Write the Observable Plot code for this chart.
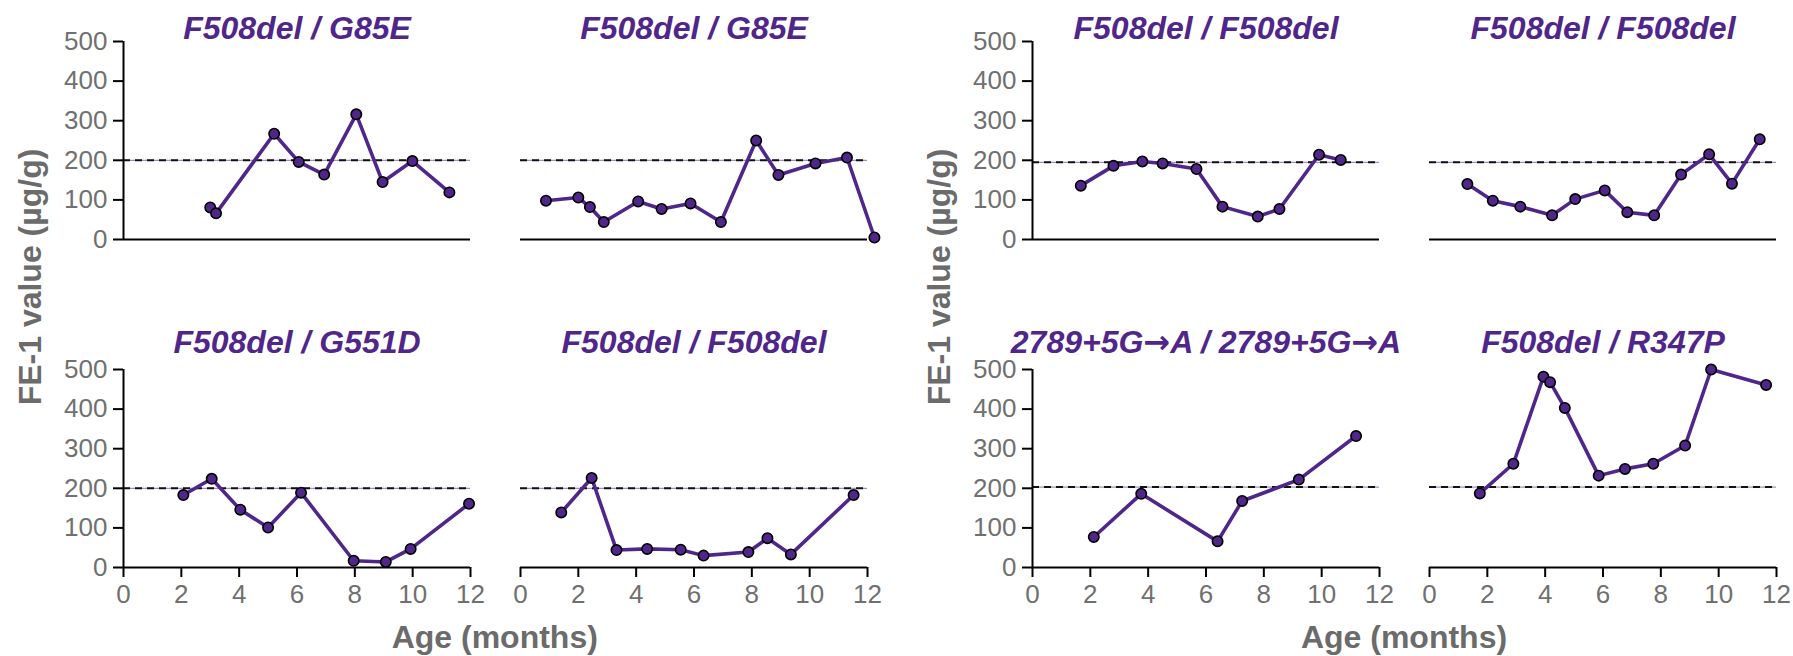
<!DOCTYPE html>
<html>
<head>
<meta charset="utf-8">
<script src="https://cdn.jsdelivr.net/npm/d3@7"></script>
<script src="https://cdn.jsdelivr.net/npm/@observablehq/plot@0.6"></script>
<style>
  html, body { margin: 0; padding: 0; background: #fff; }
  #chart { position: relative; width: 1793px; height: 656px; background: #fff; overflow: hidden;
           font-family: "Liberation Sans", Arial, sans-serif; }
</style>
</head>
<body>
<div id="chart"></div>
<script>
// ---- data ----
const titles = [
  "F508del / G85E", "F508del / G85E", "F508del / F508del", "F508del / F508del",
  "F508del / G551D", "F508del / F508del", "2789+5G\u2192A / 2789+5G\u2192A", "F508del / R347P"
];
const thresholds = [200, 200, 195, 195, 200, 200, 203, 203];

const p1Age = [3.0, 3.2, 5.21, 6.06, 6.94, 8.05, 8.96, 9.99, 11.27];
const p1Fe1 = [81, 66, 267, 196, 164, 316, 145, 198, 119];
const p2Age = [0.88, 2.0, 2.4, 2.88, 4.07, 4.88, 5.88, 6.93, 8.15, 8.92, 10.2, 11.29, 12.24];
const p2Fe1 = [98, 106, 82, 44, 96, 77, 91, 44, 250, 163, 192, 207, 5];
const p3Age = [1.67, 2.8, 3.8, 4.5, 5.67, 6.57, 7.79, 8.54, 9.91, 10.66];
const p3Fe1 = [136, 186, 197, 192, 178, 83, 58, 77, 214, 201];
const p4Age = [1.31, 2.19, 3.14, 4.24, 5.04, 6.06, 6.84, 7.77, 8.7, 9.67, 10.46, 11.42];
const p4Fe1 = [140, 98, 83, 61, 102, 124, 69, 61, 164, 215, 141, 253];
const p5Age = [2.07, 3.05, 4.04, 5.0, 6.14, 7.96, 9.07, 9.93, 11.95];
const p5Fe1 = [183, 224, 146, 101, 189, 17, 14, 47, 161];
const p6Age = [1.41, 2.46, 3.32, 4.38, 5.54, 6.33, 7.88, 8.54, 9.35, 11.52];
const p6Fe1 = [139, 226, 44, 47, 45, 30, 39, 74, 33, 183];
const p7Age = [2.12, 3.76, 6.4, 7.25, 9.21, 11.19];
const p7Fe1 = [77, 186, 66, 168, 222, 332];
const p8Age = [1.74, 2.9, 3.94, 4.17, 4.68, 5.85, 6.76, 7.74, 8.84, 9.74, 11.64];
const p8Fe1 = [187, 262, 482, 468, 403, 232, 249, 262, 308, 500, 461];

const xTicks = [0, 2, 4, 6, 8, 10, 12];
const yTicks = [0, 100, 200, 300, 400, 500];
const yLabel = "FE-1 value (\u00b5g/g)";
const xLabel = "Age (months)";

const ages = [p1Age, p2Age, p3Age, p4Age, p5Age, p6Age, p7Age, p8Age];
const vals = [p1Fe1, p2Fe1, p3Fe1, p4Fe1, p5Fe1, p6Fe1, p7Fe1, p8Fe1];

// ---- layout ----
const purple = "#50268a";
const gray = "#707070";
const font = "'Liberation Sans', Arial, sans-serif";
const colLeft = [123, 519.5, 1032, 1429];
const rowTop = [41, 369];
const fw = 347, fh = 198;
const ML = 115, MR = 25, MT = 45, MB = 50;
const titleDy = [-3, -17];

const chart = document.getElementById("chart");

for (let i = 0; i < 8; i++) {
  const row = Math.floor(i / 4), col = i % 4;
  const data = ages[i].map((a, j) => ({age: a, fe1: vals[i][j]}));
  const showY = col === 0 || col === 2;
  const showX = row === 1;
  const marks = [
    Plot.ruleY([thresholds[i]], {stroke: "#a58cc9", strokeWidth: 1.2}),
    Plot.ruleY([thresholds[i]], {stroke: "#111", strokeWidth: 2, strokeDasharray: "7,5"}),
    Plot.ruleY([0], {x1: 0, x2: 12, stroke: "black", strokeWidth: 2}),
  ];
  if (showY) {
    marks.push(Plot.ruleX([0], {y1: 0, y2: 500, stroke: "black", strokeWidth: 2}));
    marks.push(Plot.axisY({ticks: yTicks, tickSize: 10, tickPadding: 6, fontSize: 26,
      stroke: "black", strokeWidth: 2, fill: gray, label: null}));
  }
  if (showX) {
    marks.push(Plot.axisX({ticks: xTicks, tickSize: 10, tickPadding: 7, fontSize: 26,
      stroke: "black", strokeWidth: 2, fill: gray, label: null}));
  }
  marks.push(
    Plot.line(data, {x: "age", y: "fe1", stroke: purple, strokeWidth: 3.6}),
    Plot.dot(data, {x: "age", y: "fe1", r: 5.2, fill: purple, stroke: "black", strokeWidth: 1.6}),
    Plot.text([titles[i]], {frameAnchor: "top", dy: titleDy[row], lineAnchor: "bottom",
      fontSize: 32, fontWeight: "bold", fontStyle: "italic", fill: purple})
  );
  const p = Plot.plot({
    width: ML + fw + MR,
    height: MT + fh + MB,
    marginLeft: ML, marginRight: MR, marginTop: MT, marginBottom: MB,
    x: {domain: [0, 12], axis: null},
    y: {domain: [0, 500], axis: null},
    style: {background: "transparent", overflow: "visible", fontFamily: font},
    marks
  });
  // render the arrow glyph with a font whose arrow is full-sized, as in the reference
  p.querySelectorAll("text").forEach(t => {
    const s = t.textContent;
    if (!s.includes("\u2192")) return;
    t.textContent = "";
    s.split(/(\u2192)/).forEach(part => {
      if (!part) return;
      const ts = document.createElementNS("http://www.w3.org/2000/svg", "tspan");
      ts.textContent = part;
      if (part === "\u2192") { ts.setAttribute("font-family", "DejaVu Sans"); ts.setAttribute("font-weight", "bold"); }
      t.appendChild(ts);
    });
  });
  p.style.position = "absolute";
  p.style.left = (colLeft[col] - ML) + "px";
  p.style.top = (rowTop[row] - MT) + "px";
  chart.appendChild(p);
}

// axis titles overlay
const ns = "http://www.w3.org/2000/svg";
const ov = document.createElementNS(ns, "svg");
ov.setAttribute("width", 1793); ov.setAttribute("height", 656);
ov.style.position = "absolute"; ov.style.left = "0px"; ov.style.top = "0px"; ov.style.overflow = "visible";
function addText(str, x, y, rot) {
  const t = document.createElementNS(ns, "text");
  t.textContent = str;
  t.setAttribute("text-anchor", "middle");
  t.setAttribute("font-family", font);
  t.setAttribute("font-size", 32);
  t.setAttribute("font-weight", "bold");
  t.setAttribute("fill", "#6b6b6b");
  if (rot) t.setAttribute("transform", `translate(${x},${y}) rotate(-90)`);
  else { t.setAttribute("x", x); t.setAttribute("y", y); }
  ov.appendChild(t);
}
const groupCenter = [(colLeft[0] + colLeft[1] + fw) / 2, (colLeft[2] + colLeft[3] + fw) / 2];
addText(yLabel, colLeft[0] - 82, 277, true);
addText(yLabel, colLeft[2] - 82, 277, true);
addText(xLabel, groupCenter[0], 648, false);
addText(xLabel, groupCenter[1], 648, false);
chart.appendChild(ov);
</script>
</body>
</html>
